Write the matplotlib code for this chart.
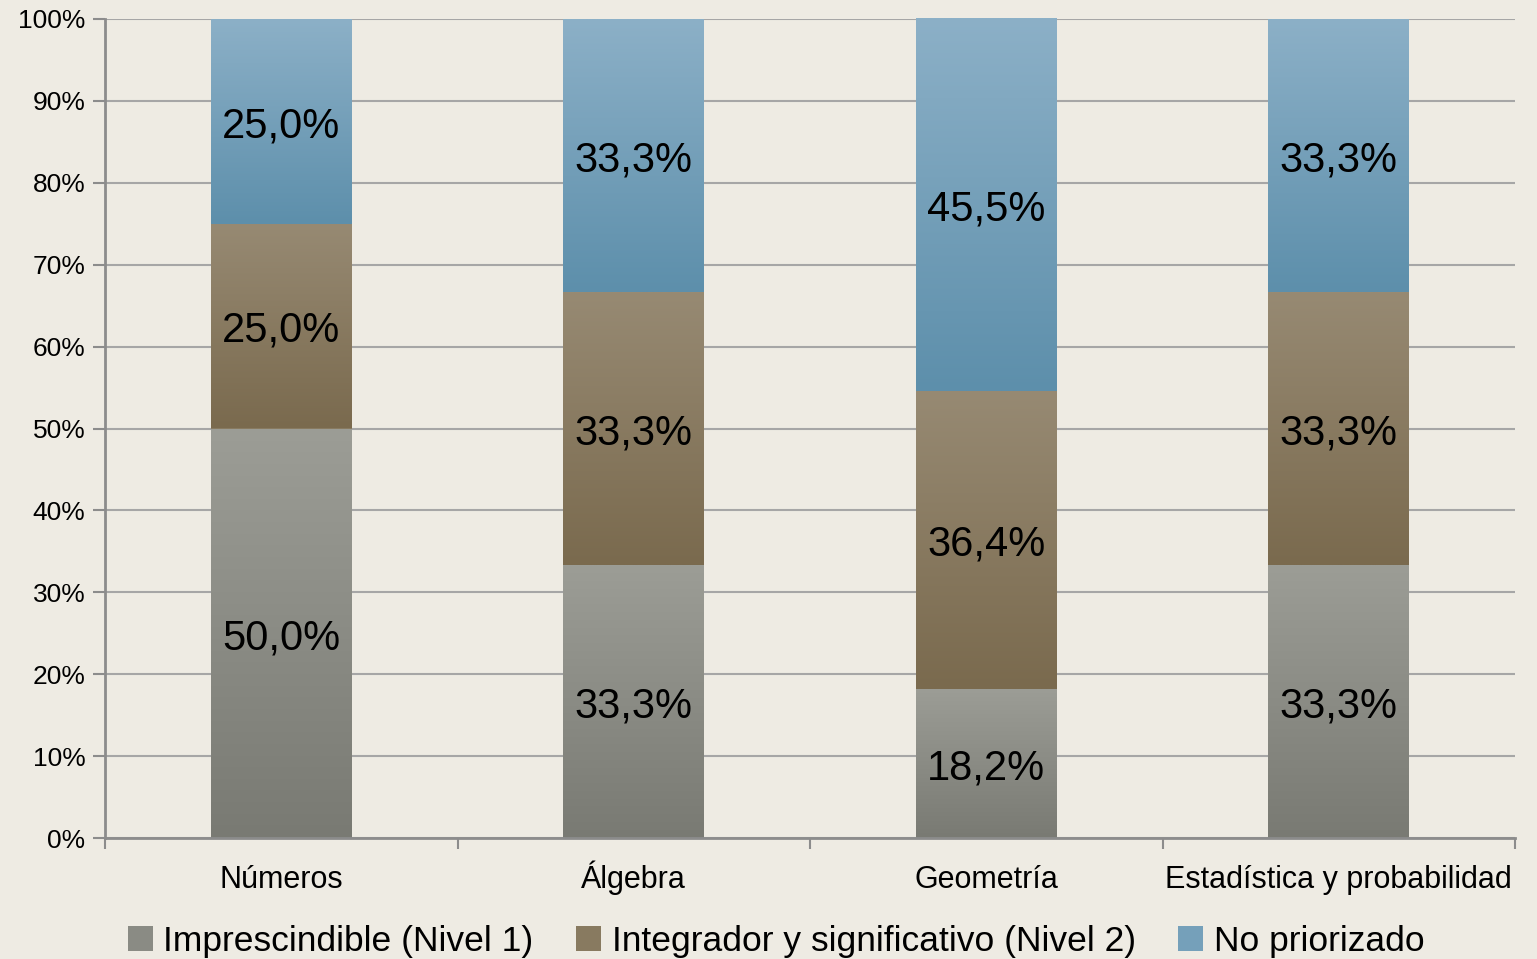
import matplotlib
matplotlib.use("Agg")
import matplotlib.pyplot as plt
import numpy as np
from matplotlib.colors import LinearSegmentedColormap
from matplotlib.patches import Patch
from matplotlib.ticker import MultipleLocator, FuncFormatter

categories = ["Números", "Álgebra", "Geometría", "Estadística y probabilidad"]
series_names = ["Imprescindible (Nivel 1)", "Integrador y significativo (Nivel 2)", "No priorizado"]
nivel1 = [50.0, 33.33, 18.2, 33.33]
nivel2 = [25.0, 33.33, 36.4, 33.33]
no_prior = [25.0, 33.33, 45.5, 33.33]
series = [nivel1, nivel2, no_prior]

grad_colors = [("#9c9d96", "#797a73"), ("#978a73", "#7a6a4e"), ("#8cb0c7", "#5d8fab")]
mid_colors = ["#8a8b84", "#887a60", "#75a0ba"]

plt.rcParams['font.family'] = ["Liberation Sans", "DejaVu Sans"]

bg = "#eeebe3"
fig = plt.figure(figsize=(15.37, 9.59), dpi=100, facecolor=bg)
ax = fig.add_axes([105/1537, 1-838/959, (1515-105)/1537, (838-19)/959])
ax.set_facecolor(bg)

x = np.arange(len(categories))
width = 0.40
bottom = np.zeros(len(categories))
for vals, (ctop, cbot), mc in zip(series, grad_colors, mid_colors):
    bars = ax.bar(x, vals, width, bottom=bottom, color=mc, zorder=2, linewidth=0)
    cmap = LinearSegmentedColormap.from_list("g", [cbot, ctop])
    for b in bars:
        x0, y0 = b.get_x(), b.get_y()
        w, h = b.get_width(), b.get_height()
        grad = np.linspace(0, 1, 256).reshape(-1, 1)
        im = ax.imshow(grad, cmap=cmap, aspect="auto", origin="lower",
                       extent=[x0, x0 + w, y0, y0 + h], zorder=2.5)
        im.set_clip_path(b)
    for xi, bi, v in zip(x, bottom, vals):
        ax.annotate(f"{v:.1f}%".replace(".", ","), xy=(xi, bi + v / 2), xytext=(0, -3.5),
                    textcoords="offset points", ha="center", va="center",
                    fontsize=30, color="black", zorder=4)
    bottom += np.array(vals)

ax.set_xlim(-0.5, len(categories) - 0.5)
ax.set_ylim(0, 100)
ax.yaxis.set_major_locator(MultipleLocator(10))
ax.yaxis.set_major_formatter(FuncFormatter(lambda v, p: f"{int(round(v))}%"))
ax.grid(axis="y", color="#a6a6a6", linewidth=1.5, zorder=1)
ax.set_axisbelow(True)
for s in ["top", "right"]:
    ax.spines[s].set_visible(False)
for s in ["left", "bottom"]:
    ax.spines[s].set_color("#8c8c8c")
    ax.spines[s].set_linewidth(2)
ax.set_xticks(np.arange(len(categories) + 1) - 0.5)
ax.set_xticklabels([])
ax.set_xticks(x, minor=True)
ax.set_xticklabels(categories, minor=True, fontsize=22)
for lab in ax.get_xticklabels(minor=True):
    lab.set_verticalalignment("baseline")
ax.tick_params(axis="x", which="major", length=8, width=1.5, color="#8c8c8c", direction="out")
ax.tick_params(axis="x", which="minor", length=0, pad=36)
ax.tick_params(axis="y", length=9, width=1.5, color="#8c8c8c", labelsize=19, pad=5)

handles = [Patch(facecolor=c, edgecolor="none") for c in mid_colors]
leg = fig.legend(handles, series_names, loc="center", bbox_to_anchor=(0.505, 1 - 941/959), ncol=3,
                 frameon=False, fontsize=25.5, handlelength=0.7, handleheight=0.7,
                 handletextpad=0.3, columnspacing=1.2)

fig.savefig("out.png", dpi=100, facecolor=bg)
